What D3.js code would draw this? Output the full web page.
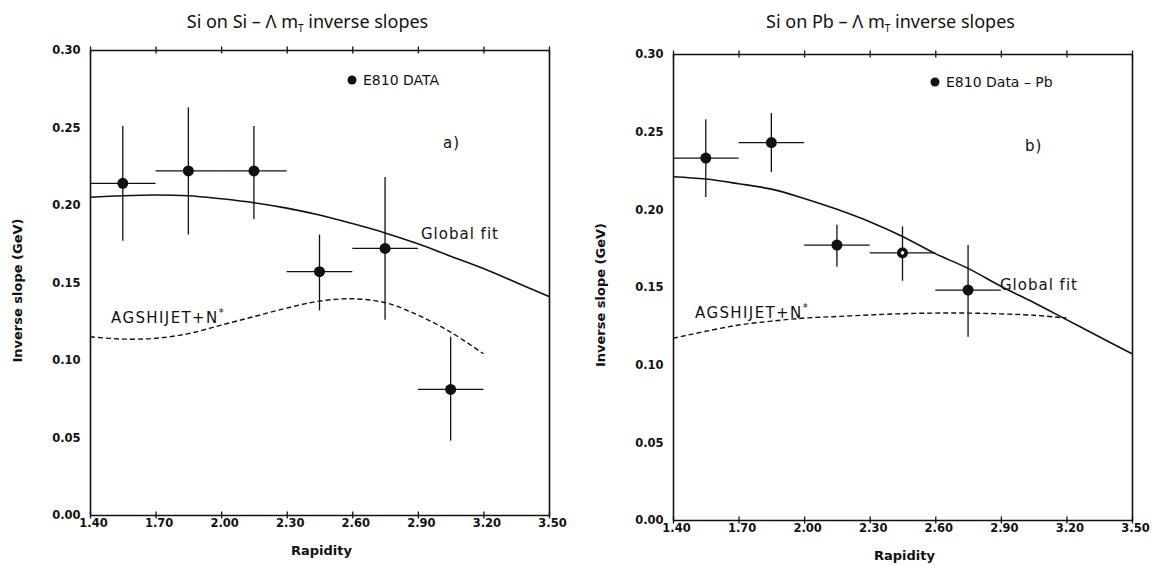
<!DOCTYPE html>
<html>
<head>
<meta charset="utf-8">
<script src="https://cdn.jsdelivr.net/npm/d3@7"></script>
<style>
  body { margin: 0; background: #fff; }
  svg text { font-family: "DejaVu Sans", sans-serif; fill: #111; }
  .tick-label { font-size: 11.5px; font-weight: bold; }
  .axis-title { font-size: 13px; font-weight: bold; }
  .title { font-family: "Noto Sans", sans-serif; font-size: 18px; }
  .note { font-size: 15px; letter-spacing: 1px; }
  .legend { font-size: 14px; }
</style>
</head>
<body>
<svg id="chart" width="1158" height="566"></svg>
<script>

// axis ticks
const xTicks = [1.40, 1.70, 2.00, 2.30, 2.60, 2.90, 3.20, 3.50];
const yTicks = [0.00, 0.05, 0.10, 0.15, 0.20, 0.25, 0.30];

// Si on Si data (E810)
const siSiRap = [1.55, 1.85, 2.15, 2.45, 2.75, 3.05];
const siSiSlope = [0.214, 0.222, 0.222, 0.157, 0.172, 0.081];
const siSiLow = [0.177, 0.181, 0.191, 0.132, 0.126, 0.048];
const siSiHigh = [0.251, 0.263, 0.251, 0.181, 0.218, 0.115];
const siSiHalfBin = [0.15, 0.15, 0.15, 0.15, 0.15, 0.15];
const siSiOpen = [false, false, false, false, false, false];

// Si on Si curves
const fitRap = [1.40, 1.55, 1.70, 1.85, 2.00, 2.15, 2.30, 2.45, 2.60, 2.75, 2.90, 3.05, 3.20, 3.35, 3.50];
const siSiFit = [0.205, 0.206, 0.2065, 0.206, 0.204, 0.2015, 0.198, 0.1935, 0.188, 0.182, 0.175, 0.167, 0.159, 0.150, 0.141];
const agsRap = [1.40, 1.55, 1.70, 1.85, 2.00, 2.15, 2.30, 2.45, 2.60, 2.75, 2.90, 3.05, 3.20];
const siSiAgs = [0.115, 0.1135, 0.114, 0.117, 0.1225, 0.128, 0.1335, 0.138, 0.1395, 0.137, 0.129, 0.118, 0.104];

// Si on Pb data (E810)
const siPbRap = [1.55, 1.85, 2.15, 2.45, 2.75];
const siPbSlope = [0.233, 0.243, 0.177, 0.172, 0.148];
const siPbLow = [0.208, 0.224, 0.163, 0.154, 0.118];
const siPbHigh = [0.258, 0.262, 0.190, 0.189, 0.177];
const siPbHalfBin = [0.15, 0.15, 0.15, 0.15, 0.15];
const siPbOpen = [false, false, false, true, false];

// Si on Pb curves
const siPbFit = [0.221, 0.2195, 0.2165, 0.213, 0.207, 0.200, 0.192, 0.1825, 0.1715, 0.162, 0.1505, 0.140, 0.129, 0.118, 0.107];
const siPbAgs = [0.117, 0.1215, 0.1255, 0.128, 0.130, 0.131, 0.132, 0.1328, 0.1332, 0.1332, 0.1327, 0.1318, 0.130];

const ink = "#111";
const svg = d3.select("#chart");

function drawPanel(cfg) {
  let g = svg.append("g");

  let x = d3.scaleLinear().domain([1.40, 3.50]).range([cfg.left, cfg.right]);
  let y = d3.scaleLinear().domain([0, 0.30]).range([cfg.bottom, cfg.top]);

  // frame with crossing ticks on all four sides
  let tl = 3.5;
  let axes = [
    d3.axisBottom(x).tickValues(xTicks).tickSizeInner(tl).tickSizeOuter(0).tickFormat(d3.format(".2f")),
    d3.axisTop(x).tickValues(xTicks).tickSizeInner(tl).tickSizeOuter(0).tickFormat(""),
    d3.axisLeft(y).tickValues(yTicks).tickSizeInner(tl).tickSizeOuter(0).tickFormat(d3.format(".2f")),
    d3.axisRight(y).tickValues(yTicks).tickSizeInner(tl).tickSizeOuter(0).tickFormat("")
  ];
  let shifts = [
    [0, cfg.bottom], [0, cfg.top], [cfg.left, 0], [cfg.right, 0]
  ];
  axes.forEach(function(ax, i) {
    let a = g.append("g")
      .attr("transform", "translate(" + shifts[i][0] + "," + shifts[i][1] + ")")
      .call(ax);
    a.select(".domain").attr("stroke", ink).attr("stroke-width", 1.6);
    a.selectAll(".tick line").attr("stroke", ink).attr("stroke-width", 1.3)
      .attr(i < 2 ? "y1" : "x1", i == 0 || i == 2 ? -tl : tl);
    a.selectAll(".tick text").attr("class", "tick-label").attr("fill", ink);
    if (i == 0) a.selectAll(".tick text").attr("dx", 3).attr("dy", "0.45em");
    if (i == 2) a.selectAll(".tick text").attr("dx", -3);
  });

  // axis titles
  g.append("text").attr("class", "axis-title")
    .attr("x", (cfg.left + cfg.right) / 2 + 2).attr("y", cfg.bottom + 40)
    .attr("text-anchor", "middle").text("Rapidity");
  g.append("text").attr("class", "axis-title")
    .attr("transform", "translate(" + (cfg.left - 68) + "," + ((cfg.top + cfg.bottom) / 2 + 8) + ") rotate(-90)")
    .attr("text-anchor", "middle").text("Inverse slope (GeV)");

  // title
  let t = g.append("text").attr("class", "title")
    .attr("x", (cfg.left + cfg.right) / 2 - 12).attr("y", 28)
    .attr("text-anchor", "middle");
  t.append("tspan").text(cfg.title + " \u2013 \u039B m");
  t.append("tspan").attr("font-size", 10).attr("dy", 4).text("T");
  t.append("tspan").attr("dy", -4).text(" inverse slopes");

  // curves
  let line = d3.line().curve(d3.curveCatmullRom);
  g.append("path")
    .attr("d", line(fitRap.map(function(d, i) { return [x(d), y(cfg.fit[i])]; })))
    .attr("fill", "none").attr("stroke", ink).attr("stroke-width", 1.6);
  g.append("path")
    .attr("d", line(agsRap.map(function(d, i) { return [x(d), y(cfg.ags[i])]; })))
    .attr("fill", "none").attr("stroke", ink).attr("stroke-width", 1.4)
    .attr("stroke-dasharray", "5,3");

  // error bars
  let pts = cfg.rap.map(function(d, i) {
    return {r: d, s: cfg.slope[i], lo: cfg.low[i], hi: cfg.high[i], h: cfg.half[i], open: cfg.open[i]};
  });
  let bars = g.append("g").selectAll("g").data(pts).enter().append("g");
  bars.append("line")
    .attr("x1", function(d) { return x(d.r); }).attr("x2", function(d) { return x(d.r); })
    .attr("y1", function(d) { return y(d.lo); }).attr("y2", function(d) { return y(d.hi); })
    .attr("stroke", ink).attr("stroke-width", 1.3);
  bars.append("line")
    .attr("x1", function(d) { return x(d.r - d.h); }).attr("x2", function(d) { return x(d.r + d.h); })
    .attr("y1", function(d) { return y(d.s); }).attr("y2", function(d) { return y(d.s); })
    .attr("stroke", ink).attr("stroke-width", 1.3);
  bars.append("circle")
    .attr("cx", function(d) { return x(d.r); }).attr("cy", function(d) { return y(d.s); })
    .attr("r", 5.5).attr("fill", ink);
  bars.filter(function(d) { return d.open; }).append("circle")
    .attr("cx", function(d) { return x(d.r); }).attr("cy", function(d) { return y(d.s); })
    .attr("r", 1.8).attr("fill", "#fff");

  // legend
  g.append("circle").attr("cx", cfg.legend[0]).attr("cy", cfg.legend[1]).attr("r", 4.5).attr("fill", ink);
  g.append("text").attr("class", "legend")
    .attr("x", cfg.legend[0] + 11).attr("y", cfg.legend[1] + 5).text(cfg.legendText);

  // annotations
  g.append("text").attr("class", "note").attr("x", cfg.tag[0]).attr("y", cfg.tag[1]).text(cfg.tagText);
  g.append("text").attr("class", "note").attr("x", cfg.fitLabel[0]).attr("y", cfg.fitLabel[1]).text("Global fit");
  let a = g.append("text").attr("class", "note").attr("x", cfg.agsLabel[0]).attr("y", cfg.agsLabel[1])
    .style("letter-spacing", "1.4px");
  a.append("tspan").text("AGSHIJET+N");
  a.append("tspan").attr("font-size", 10).attr("dy", -7).text("*");
}

drawPanel({
  left: 90, right: 549, top: 50, bottom: 515,
  title: "Si on Si",
  fit: siSiFit, ags: siSiAgs,
  rap: siSiRap, slope: siSiSlope, low: siSiLow, high: siSiHigh, half: siSiHalfBin, open: siSiOpen,
  legend: [352, 80], legendText: "E810 DATA",
  tag: [443, 148], tagText: "a)",
  fitLabel: [421, 239], agsLabel: [111, 323]
});

drawPanel({
  left: 673, right: 1132, top: 54, bottom: 520,
  title: "Si on Pb",
  fit: siPbFit, ags: siPbAgs,
  rap: siPbRap, slope: siPbSlope, low: siPbLow, high: siPbHigh, half: siPbHalfBin, open: siPbOpen,
  legend: [935, 82], legendText: "E810 Data \u2013 Pb",
  tag: [1025, 151], tagText: "b)",
  fitLabel: [1000, 290], agsLabel: [695, 318]
});

</script>
</body>
</html>
